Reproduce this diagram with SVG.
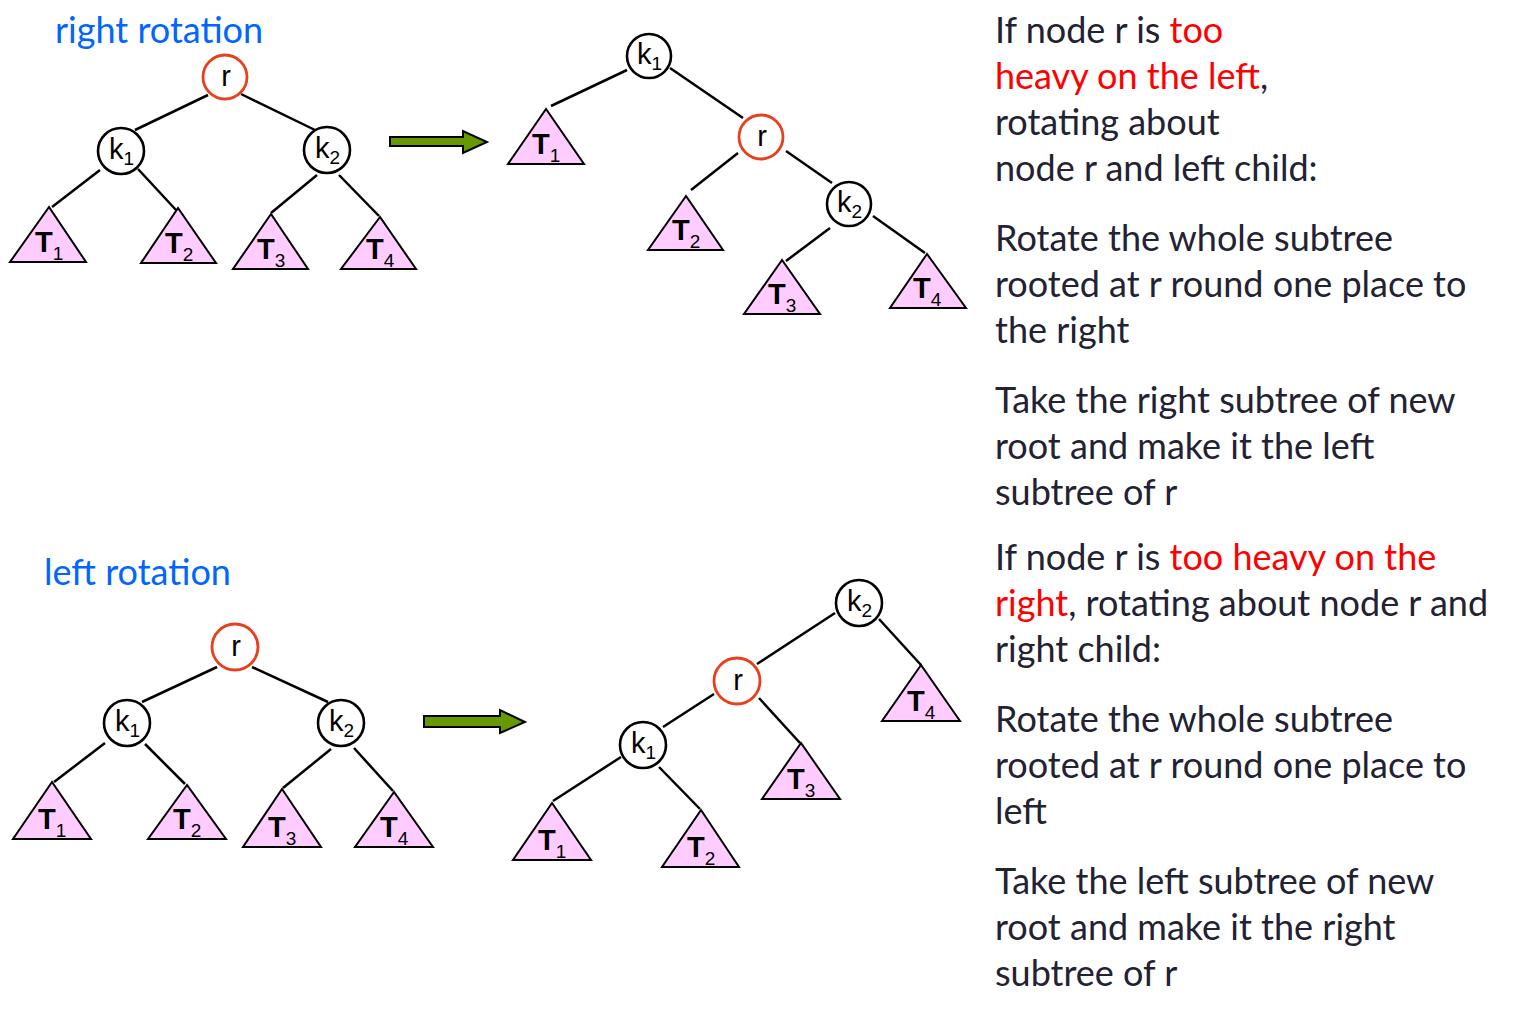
<svg xmlns="http://www.w3.org/2000/svg" width="1517" height="1022" viewBox="0 0 1517 1022">
<style>
.bg{fill:#ffffff}
.node{fill:#ffffff;stroke:#000000;stroke-width:2.6}
.root{fill:#ffffff;stroke:#E8401C;stroke-width:2.8}
.lbl{font-family:"Liberation Sans",Arial,sans-serif;font-size:29px;fill:#000000}
.sub{font-size:19px}
.tri{fill:#FFCCFF;stroke:#000000;stroke-width:2}
.tl{font-family:"Liberation Sans",Arial,sans-serif;font-weight:bold;font-size:29px;fill:#000000}
.tsub{font-size:19px;font-weight:normal}
.edge{stroke:#000000;stroke-width:2.5;fill:none}
.arrow{fill:#669900;stroke:#000000;stroke-width:2}
.title{font-family:Lato,"Open Sans",sans-serif;font-size:36px;fill:#0066FF}
.body{font-family:Lato,"Open Sans",sans-serif;font-size:36px;fill:#222233}
.red{fill:#FF0000}
</style>
<rect class="bg" x="0" y="0" width="1517" height="1022"/>

<text class="title" x="55" y="43">right rotation</text>
<text class="title" x="44" y="585">left rotation</text>

<g id="connectors">
  <line class="edge" x1="208" y1="95" x2="135" y2="130"/>
  <line class="edge" x1="241" y1="94" x2="315" y2="130"/>
  <line class="edge" x1="100" y1="170" x2="52" y2="207"/>
  <line class="edge" x1="138" y1="169" x2="176" y2="210"/>
  <line class="edge" x1="317" y1="175" x2="271" y2="213"/>
  <line class="edge" x1="339" y1="175" x2="379" y2="216"/>
  <line class="edge" x1="627" y1="70" x2="551" y2="106"/>
  <line class="edge" x1="670" y1="68" x2="743" y2="118"/>
  <line class="edge" x1="738" y1="153" x2="691" y2="190"/>
  <line class="edge" x1="786" y1="151" x2="832" y2="183"/>
  <line class="edge" x1="830" y1="228" x2="786" y2="261"/>
  <line class="edge" x1="873" y1="216" x2="925" y2="253"/>
  <line class="edge" x1="217" y1="667" x2="142" y2="702"/>
  <line class="edge" x1="252" y1="667" x2="328" y2="702"/>
  <line class="edge" x1="105" y1="743" x2="54" y2="782"/>
  <line class="edge" x1="145" y1="744" x2="185" y2="784"/>
  <line class="edge" x1="331" y1="749" x2="283" y2="788"/>
  <line class="edge" x1="354" y1="748" x2="393" y2="791"/>
  <line class="edge" x1="835" y1="613" x2="757" y2="664"/>
  <line class="edge" x1="879" y1="619" x2="921" y2="665"/>
  <line class="edge" x1="714" y1="694" x2="663" y2="727"/>
  <line class="edge" x1="759" y1="698" x2="800" y2="743"/>
  <line class="edge" x1="621" y1="757" x2="553" y2="801"/>
  <line class="edge" x1="659" y1="767" x2="700" y2="809"/>
  <polygon class="arrow" points="390,137 463,137 463,131 487,142 463,153 463,146 390,146"/>
  <polygon class="arrow" points="424,716 500,716 500,710 525,722 500,733 500,727 424,727"/>
</g>

<g id="tl-r"><circle class="root" cx="225" cy="77" r="22"/><text class="lbl" x="226" y="86" text-anchor="middle">r</text></g>
<g id="tl-k1"><circle class="node" cx="121" cy="151" r="23"/><text class="lbl" x="109" y="159">k<tspan class="sub" dy="6">1</tspan></text></g>
<g id="tl-k2"><circle class="node" cx="327" cy="150" r="23"/><text class="lbl" x="315" y="158">k<tspan class="sub" dy="6">2</tspan></text></g>
<g id="tl-T1"><polygon class="tri" points="49,207 10,262 86,262"/><text class="tl" x="35" y="252">T<tspan class="tsub" dy="8">1</tspan></text></g>
<g id="tl-T2"><polygon class="tri" points="178,208 141,263 216,263"/><text class="tl" x="165" y="253">T<tspan class="tsub" dy="8">2</tspan></text></g>
<g id="tl-T3"><polygon class="tri" points="271,214 233,269 308,269"/><text class="tl" x="257" y="259">T<tspan class="tsub" dy="8">3</tspan></text></g>
<g id="tl-T4"><polygon class="tri" points="380,217 341,269 416,269"/><text class="tl" x="366" y="259">T<tspan class="tsub" dy="8">4</tspan></text></g>

<g id="tr-k1"><circle class="node" cx="649" cy="56" r="22"/><text class="lbl" x="637" y="64">k<tspan class="sub" dy="6">1</tspan></text></g>
<g id="tr-r"><circle class="root" cx="761" cy="137" r="22"/><text class="lbl" x="762" y="146" text-anchor="middle">r</text></g>
<g id="tr-k2"><circle class="node" cx="849" cy="204" r="22"/><text class="lbl" x="837" y="212">k<tspan class="sub" dy="6">2</tspan></text></g>
<g id="tr-T1"><polygon class="tri" points="546,109 508,164 584,164"/><text class="tl" x="532" y="154">T<tspan class="tsub" dy="8">1</tspan></text></g>
<g id="tr-T2"><polygon class="tri" points="686,196 648,250 723,250"/><text class="tl" x="672" y="240">T<tspan class="tsub" dy="8">2</tspan></text></g>
<g id="tr-T3"><polygon class="tri" points="782,260 744,314 820,314"/><text class="tl" x="768" y="304">T<tspan class="tsub" dy="8">3</tspan></text></g>
<g id="tr-T4"><polygon class="tri" points="927,254 890,308 966,308"/><text class="tl" x="913" y="298">T<tspan class="tsub" dy="8">4</tspan></text></g>

<g id="bl-r"><circle class="root" cx="235" cy="647" r="23"/><text class="lbl" x="236" y="656" text-anchor="middle">r</text></g>
<g id="bl-k1"><circle class="node" cx="127" cy="723" r="23"/><text class="lbl" x="115" y="731">k<tspan class="sub" dy="6">1</tspan></text></g>
<g id="bl-k2"><circle class="node" cx="341" cy="723" r="23"/><text class="lbl" x="329" y="731">k<tspan class="sub" dy="6">2</tspan></text></g>
<g id="bl-T1"><polygon class="tri" points="52,782 13,839 91,839"/><text class="tl" x="38" y="829">T<tspan class="tsub" dy="8">1</tspan></text></g>
<g id="bl-T2"><polygon class="tri" points="187,785 148,839 226,839"/><text class="tl" x="173" y="829">T<tspan class="tsub" dy="8">2</tspan></text></g>
<g id="bl-T3"><polygon class="tri" points="282,789 243,847 321,847"/><text class="tl" x="268" y="837">T<tspan class="tsub" dy="8">3</tspan></text></g>
<g id="bl-T4"><polygon class="tri" points="394,792 355,847 433,847"/><text class="tl" x="380" y="837">T<tspan class="tsub" dy="8">4</tspan></text></g>

<g id="br-k2"><circle class="node" cx="859" cy="603" r="23"/><text class="lbl" x="847" y="611">k<tspan class="sub" dy="6">2</tspan></text></g>
<g id="br-r"><circle class="root" cx="737" cy="681" r="23"/><text class="lbl" x="738" y="690" text-anchor="middle">r</text></g>
<g id="br-k1"><circle class="node" cx="643" cy="745" r="23"/><text class="lbl" x="631" y="753">k<tspan class="sub" dy="6">1</tspan></text></g>
<g id="br-T1"><polygon class="tri" points="552,803 513,860 591,860"/><text class="tl" x="538" y="850">T<tspan class="tsub" dy="8">1</tspan></text></g>
<g id="br-T2"><polygon class="tri" points="701,810 662,867 739,867"/><text class="tl" x="687" y="857">T<tspan class="tsub" dy="8">2</tspan></text></g>
<g id="br-T3"><polygon class="tri" points="801,743 762,799 840,799"/><text class="tl" x="787" y="789">T<tspan class="tsub" dy="8">3</tspan></text></g>
<g id="br-T4"><polygon class="tri" points="921,665 882,721 960,721"/><text class="tl" x="907" y="711">T<tspan class="tsub" dy="8">4</tspan></text></g>

<g id="text-top">
  <text class="body" x="995" y="43">If node r is <tspan class="red">too</tspan></text>
  <text class="body" x="995" y="89"><tspan class="red">heavy on the left</tspan>,</text>
  <text class="body" x="995" y="135">rotating about</text>
  <text class="body" x="995" y="181">node r and left child:</text>
  <text class="body" x="995" y="251">Rotate the whole subtree</text>
  <text class="body" x="995" y="297">rooted at r round one place to</text>
  <text class="body" x="995" y="343">the right</text>
  <text class="body" x="995" y="413">Take the right subtree of new</text>
  <text class="body" x="995" y="459">root and make it the left</text>
  <text class="body" x="995" y="505">subtree of r</text>
</g>
<g id="text-bottom">
  <text class="body" x="995" y="570">If node r is <tspan class="red">too heavy on the</tspan></text>
  <text class="body" x="995" y="616"><tspan class="red">right</tspan>, rotating about node r and</text>
  <text class="body" x="995" y="662">right child:</text>
  <text class="body" x="995" y="732">Rotate the whole subtree</text>
  <text class="body" x="995" y="778">rooted at r round one place to</text>
  <text class="body" x="995" y="824">left</text>
  <text class="body" x="995" y="894">Take the left subtree of new</text>
  <text class="body" x="995" y="940">root and make it the right</text>
  <text class="body" x="995" y="986">subtree of r</text>
</g>
</svg>
